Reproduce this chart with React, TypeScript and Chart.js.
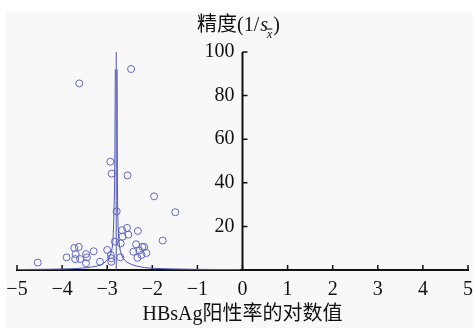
import React, { useEffect, useRef } from 'react';
import { Chart, registerables } from 'chart.js';

Chart.register(...registerables);

// Study estimates: log HBsAg positive rate (x) and precision 1/s (y)
const effectX = [-3.62, -2.47, -2.93, -2.90, -2.55, -1.96, -1.49, -2.79, -1.77, -2.32, -2.56, -2.67, -2.53, -2.66, -2.83, -2.70, -2.36, -2.22, -2.18, -2.42, -2.29, -2.13, -2.24, -2.33, -2.71, -3.00, -2.92, -2.91, -2.91, -3.16, -3.30, -3.47, -3.45, -3.60, -3.71, -3.70, -3.73, -3.63, -3.90, -3.47, -4.54];
const precisionY = [85.6, 92.2, 49.7, 44.2, 43.4, 33.8, 26.5, 26.9, 13.5, 17.9, 19.3, 18.3, 16.2, 15.3, 13.0, 12.2, 11.8, 10.6, 10.6, 8.4, 8.9, 7.8, 6.9, 5.6, 5.8, 9.2, 6.9, 5.4, 3.8, 3.8, 8.6, 7.3, 5.8, 5.0, 5.0, 7.3, 10.1, 10.6, 5.8, 3.1, 3.4];

// Funnel limits
const leftBranchX = [-5, -4, -3.45, -3.15, -3.02, -2.94, -2.89, -2.87, -2.855, -2.835, -2.82];
const leftBranchY = [0.2, 0.45, 1.05, 2.3, 4.1, 6.4, 10, 14.7, 23, 41, 92];
const rightBranchX = [-2.78, -2.77, -2.75, -2.71, -2.65, -2.56, -2.35, -1.99, -1, -0.05];
const rightBranchY = [92, 32, 16, 9, 5.5, 3.6, 1.8, 0.8, 0.3, 0.2];
const centerX = [-2.8, -2.8];
const centerY = [0, 100];

const xTickValues = [-5, -4, -3, -2, -1, 0, 1, 2, 3, 4, 5];
const yTickValues = [0, 20, 40, 60, 80, 100];

const xTitle = 'HBsAg阳性率的对数值';
const yTitleMain = '精度(1/';
const yTitleS = 's';
const yTitleSub = 'x';
const yTitleEnd = ')';

const POINT_COLOR = '#6469c2';
const LINE_COLOR = '#4f57b8';
const AXIS_COLOR = '#111111';
const SERIF = "'Liberation Serif', 'Noto Sans CJK SC', serif";

const toXY = (xs: number[], ys: number[]) => xs.map((x, i) => ({ x, y: ys[i] }));

export default function App() {
  const ref = useRef<HTMLCanvasElement>(null);

  useEffect(() => {
    document.body.style.margin = '0';
    const canvas = ref.current!;

    const bgPlugin = {
      id: 'bg',
      beforeDraw(chart: any) {
        const ctx = chart.ctx;
        ctx.save();
        ctx.fillStyle = '#ffffff';
        ctx.fillRect(0, 0, chart.width, chart.height);
        ctx.fillStyle = '#f8f8f8';
        ctx.fillRect(6, 12, chart.width - 6, chart.height - 12);
        ctx.restore();
      },
    };

    const axesPlugin = {
      id: 'axesDraw',
      beforeDatasetsDraw(chart: any) {
        const ctx = chart.ctx;
        const xs = chart.scales.x;
        const ys = chart.scales.y;
        const y0 = ys.getPixelForValue(0);
        const x0 = xs.getPixelForValue(0);
        ctx.save();
        ctx.strokeStyle = AXIS_COLOR;
        ctx.lineWidth = 2;
        ctx.beginPath();
        ctx.moveTo(xs.getPixelForValue(-5) - 1, y0);
        ctx.lineTo(xs.getPixelForValue(5) + 1, y0);
        ctx.moveTo(x0, y0);
        ctx.lineTo(x0, ys.getPixelForValue(100));
        ctx.stroke();
        ctx.lineWidth = 1.5;
        ctx.beginPath();
        xTickValues.forEach((v) => {
          const px = xs.getPixelForValue(v);
          ctx.moveTo(px, y0);
          ctx.lineTo(px, y0 - 5);
        });
        yTickValues.forEach((v) => {
          if (v === 0) return;
          const py = ys.getPixelForValue(v);
          ctx.moveTo(x0, py);
          ctx.lineTo(x0 + 5, py);
        });
        ctx.stroke();
        ctx.restore();
      },
    };

    const titlePlugin = {
      id: 'yTitle',
      afterDraw(chart: any) {
        const ctx = chart.ctx;
        ctx.save();
        ctx.fillStyle = AXIS_COLOR;
        ctx.textBaseline = 'alphabetic';
        ctx.textAlign = 'left';
        let x = 197;
        const base = 30.5;
        ctx.font = `20px ${SERIF}`;
        ctx.fillText(yTitleMain, x, base);
        x += ctx.measureText(yTitleMain).width + 1;
        ctx.font = `italic 20px ${SERIF}`;
        ctx.fillText(yTitleS, x, base);
        x += ctx.measureText(yTitleS).width - 1;
        ctx.font = `italic 12px ${SERIF}`;
        ctx.fillText(yTitleSub, x, base + 7);
        const sw = ctx.measureText(yTitleSub).width;
        ctx.strokeStyle = AXIS_COLOR;
        ctx.lineWidth = 1;
        ctx.beginPath();
        ctx.moveTo(x, base - 1.5);
        ctx.lineTo(x + sw, base - 1.5);
        ctx.stroke();
        x += sw + 1;
        ctx.font = `20px ${SERIF}`;
        ctx.fillText(yTitleEnd, x, base);
        ctx.restore();
      },
    };

    const chart = new Chart(canvas, {
      type: 'scatter',
      data: {
        datasets: [
          {
            type: 'line',
            data: toXY(centerX, centerY),
            borderColor: LINE_COLOR,
            borderWidth: 1,
            pointRadius: 0,
            tension: 0,
            fill: false,
          },
          {
            type: 'line',
            data: toXY(leftBranchX, leftBranchY),
            borderColor: LINE_COLOR,
            borderWidth: 1,
            pointRadius: 0,
            tension: 0.3,
            fill: false,
          },
          {
            type: 'line',
            data: toXY(rightBranchX, rightBranchY),
            borderColor: LINE_COLOR,
            borderWidth: 1,
            pointRadius: 0,
            tension: 0.3,
            fill: false,
          },
          {
            type: 'scatter',
            data: toXY(effectX, precisionY),
            pointStyle: 'circle',
            pointRadius: 3.5,
            borderColor: POINT_COLOR,
            backgroundColor: 'rgba(0,0,0,0)',
            borderWidth: 1,
          },
        ] as any,
      },
      options: {
        responsive: false,
        animation: false,
        layout: { padding: { left: 17, right: 3, top: 52, bottom: 0 } },
        plugins: {
          legend: { display: false },
          tooltip: { enabled: false },
        },
        scales: {
          x: {
            type: 'linear',
            min: -5,
            max: 5,
            position: 'bottom',
            afterBuildTicks: (s: any) => {
              s.ticks = xTickValues.map((v) => ({ value: v }));
            },
            grid: { display: false, drawTicks: false },
            border: { display: false },
            ticks: {
              font: { family: SERIF, size: 20 },
              color: AXIS_COLOR,
              padding: 8,
              maxRotation: 0,
              autoSkip: false,
              callback: (v: any) => (v < 0 ? '\u2212' + Math.abs(v) : String(v)),
            },
            title: {
              display: true,
              text: xTitle,
              font: { family: SERIF, size: 20 },
              color: AXIS_COLOR,
              padding: { top: 0, bottom: 1 },
            },
            afterFit: (s: any) => {
              s.height = 58;
              s.paddingLeft = 0;
              s.paddingRight = 0;
            },
          },
          y: {
            type: 'linear',
            min: 0,
            max: 100,
            // labels sit just left of the axis line drawn at x = 0
            position: { x: -0.18 } as any,
            afterBuildTicks: (s: any) => {
              s.ticks = yTickValues.map((v) => ({ value: v }));
            },
            grid: { display: false, drawTicks: false },
            border: { display: false },
            ticks: {
              font: { family: SERIF, size: 20 },
              color: AXIS_COLOR,
              padding: 0,
              callback: (v: any) => (v === 0 ? '' : String(v)),
            },
            afterFit: (s: any) => {
              s.width = 0;
              s.paddingTop = 0;
              s.paddingBottom = 0;
            },
          },
        },
      } as any,
      plugins: [bgPlugin, axesPlugin, titlePlugin],
    });

    return () => chart.destroy();
  }, []);

  return <canvas ref={ref} width={473} height={328} style={{ display: 'block' }} />;
}
